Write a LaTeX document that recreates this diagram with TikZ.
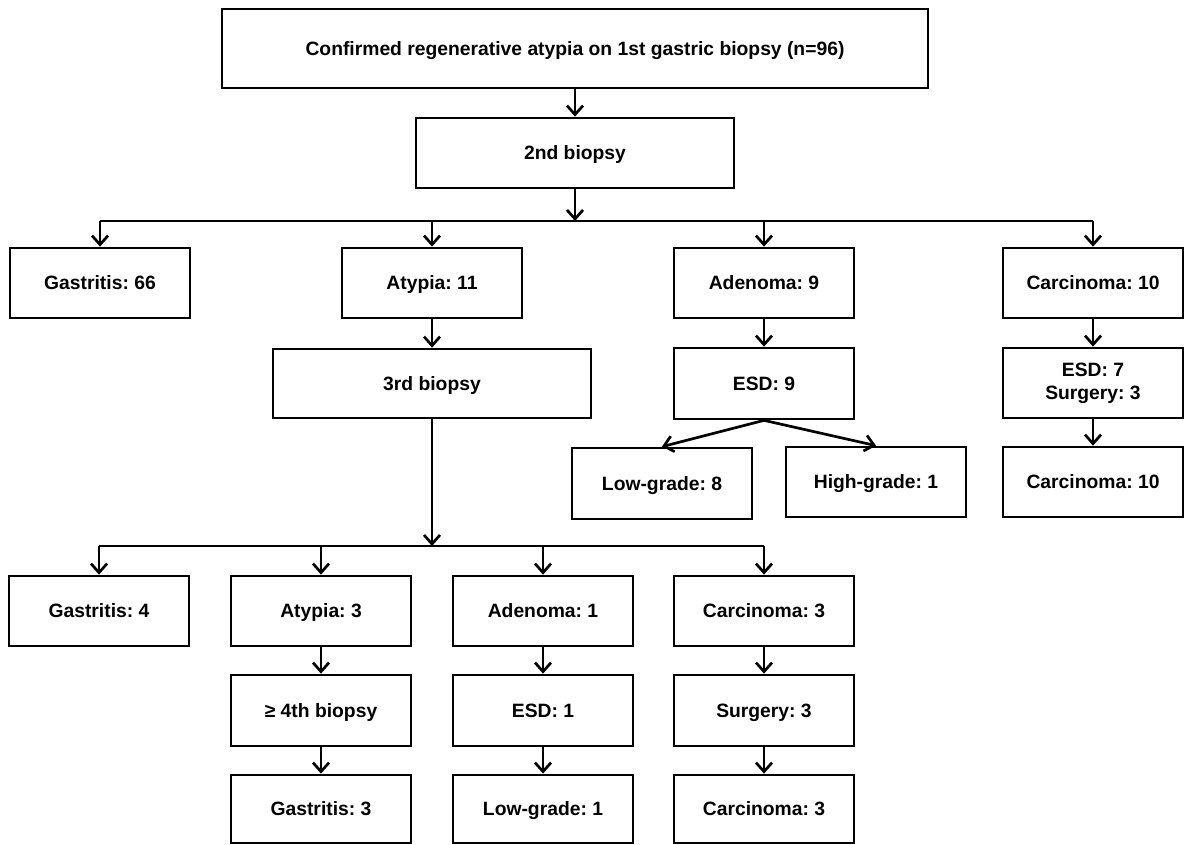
\documentclass[tikz,border=0pt]{standalone}
\usepackage{fontspec}
\setmainfont{Liberation Sans}
\usetikzlibrary{arrows.meta}
\frenchspacing
\begin{document}
\begin{tikzpicture}[x=1pt,y=-1pt,
  box/.style={draw,line width=2.7pt,minimum width=180pt,minimum height=70pt,inner sep=0pt,
    font=\bfseries\fontsize{19.3}{23}\selectfont,align=center,text height=13.8pt,text depth=0pt},
  twoline/.style={text height={},text depth={}},
  arr/.style={line width=2.7pt,-{Straight Barb[length=9pt,width=16pt]}},
  ln/.style={line width=2.7pt}]
\useasboundingbox (0,0) rectangle (1188,844);
% top
\node[box,minimum width=706pt,minimum height=79pt] (top) at (575,48.5) {Confirmed regenerative atypia on 1st gastric biopsy (n=96)};
\node[box,minimum width=318pt] (b2) at (575,153) {2nd biopsy};
\coordinate (h1) at (575,221);
% row 1
\node[box] (g66) at (100,283) {Gastritis: 66};
\node[box] (a11) at (432,283) {Atypia: 11};
\node[box] (ad9) at (764,283) {Adenoma: 9};
\node[box] (c10) at (1093,283) {Carcinoma: 10};
% second level
\node[box,minimum width=318pt,minimum height=69pt] (b3) at (432,383.5) {3rd biopsy};
\node[box,minimum height=71pt] (esd9) at (764,383.5) {ESD: 9};
\node[box,minimum height=71pt] (lg8) at (662,483.5) {Low-grade: 8};
\node[box] (hg1) at (876,482) {High-grade: 1};
\node[box,twoline] (esd7) at (1093,383) {ESD: 7\\Surgery: 3};
\node[box] (c10b) at (1093,482) {Carcinoma: 10};
\coordinate (h2) at (432,546);
% row 2
\node[box] (g4) at (99,611) {Gastritis: 4};
\node[box] (a3) at (321,611) {Atypia: 3};
\node[box] (ad1) at (543,611) {Adenoma: 1};
\node[box] (c3) at (764,611) {Carcinoma: 3};
% row 3
\node[box,minimum height=71pt] (b4) at (321,710.5) {≥ 4th biopsy};
\node[box,minimum height=71pt] (esd1) at (543,710.5) {ESD: 1};
\node[box,minimum height=71pt] (surg3) at (764,710.5) {Surgery: 3};
% row 4
\node[box,minimum height=68pt] (g3) at (321,809) {Gastritis: 3};
\node[box,minimum height=68pt] (lg1) at (543,809) {Low-grade: 1};
\node[box,minimum height=68pt] (c3b) at (764,809) {Carcinoma: 3};
% connectors
\draw[arr] (top) -- (b2);
\draw[arr] (b2) -- (b2.south |- h1);
\draw[ln] (g66.north |- h1) -- (c10.north |- h1);
\foreach \n in {g66,a11,ad9,c10} \draw[arr] (\n.north |- h1) -- (\n.north);
\draw[arr] (a11) -- (b3);
\draw[arr] (ad9) -- (esd9);
\draw[arr] (esd9.south) -- (lg8.north);
\draw[arr] (esd9.south) -- (hg1.north);
\draw[arr] (c10) -- (esd7);
\draw[arr] (esd7) -- (c10b);
\draw[arr] (b3) -- (b3.south |- h2);
\draw[ln] (g4.north |- h2) -- (c3.north |- h2);
\foreach \n in {g4,a3,ad1,c3} \draw[arr] (\n.north |- h2) -- (\n.north);
\draw[arr] (a3) -- (b4);
\draw[arr] (b4) -- (g3);
\draw[arr] (ad1) -- (esd1);
\draw[arr] (esd1) -- (lg1);
\draw[arr] (c3) -- (surg3);
\draw[arr] (surg3) -- (c3b);
\end{tikzpicture}
\end{document}
